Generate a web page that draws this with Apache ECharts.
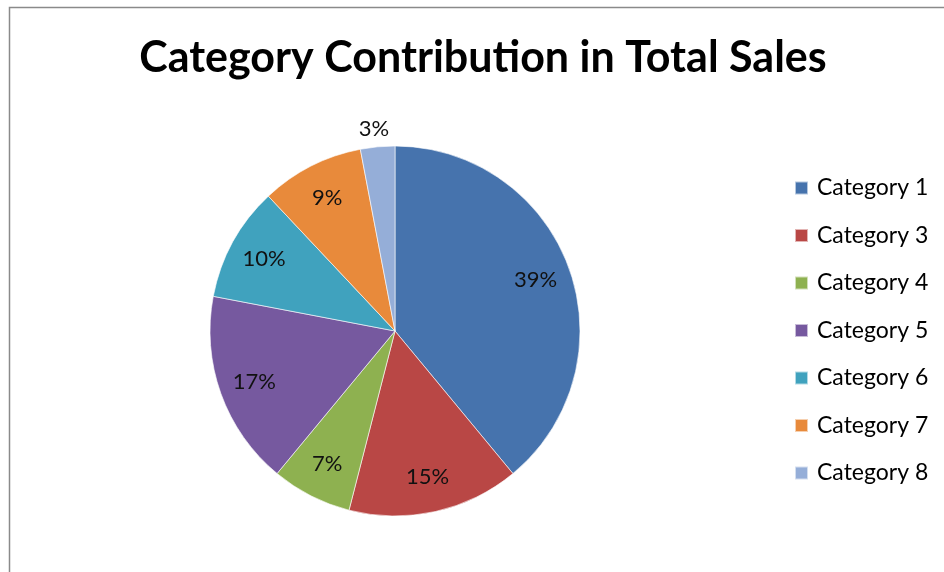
<!DOCTYPE html>
<html>
<head>
<meta charset="utf-8">
<script src="https://cdn.jsdelivr.net/npm/echarts@6/dist/echarts.min.js"></script>
<style>
  html, body { margin: 0; padding: 0; background: #fff; }
  #chart { width: 944px; height: 572px; }
</style>
</head>
<body>
<div id="chart"></div>
<script>
// Share of total sales by category (percent)
const categories = ['Category 1', 'Category 3', 'Category 4', 'Category 5', 'Category 6', 'Category 7', 'Category 8'];
const shares = [39, 15, 7, 17, 10, 9, 3];
const sliceColors = ['#4673AD', '#B94745', '#8EB150', '#76599F', '#40A2BE', '#E88A3B', '#95AED8'];
const chartTitle = 'Category Contribution in Total Sales';

const FONT = 'Lato, "Open Sans", sans-serif';
const center = [395, 331];
const R = 185;

const sliceData = categories.map((name, i) => ({
  name: name,
  value: shares[i],
  itemStyle: { color: sliceColors[i] }
}));

// Label layer: same values, labels sit at ~0.8 of the radius; the small slice puts its label outside
const labelData = categories.map((name, i) => {
  const item = { name: name, value: shares[i] };
  if (shares[i] < 5) {
    item.label = { position: 'outside', offset: [17, -14] };
    item.labelLine = { show: false, length: 4, length2: 0 };
  }
  return item;
});

const chart = echarts.init(document.getElementById('chart'), null, { renderer: 'canvas' });
chart.setOption({
  animation: false,
  backgroundColor: '#ffffff',
  color: sliceColors,
  title: {
    text: chartTitle,
    left: 483,
    top: 37,
    padding: 0,
    textAlign: 'center',
    textStyle: { fontFamily: FONT, fontWeight: 'bold', fontSize: 43, color: '#000' }
  },
  legend: {
    orient: 'vertical',
    left: 794,
    top: 176.5,
    padding: 0,
    itemWidth: 13,
    itemHeight: 13,
    itemGap: 24.5,
    icon: 'rect',
    data: categories,
    textStyle: { fontFamily: FONT, fontSize: 23, color: '#000', padding: [0, 0, 0, 4] }
  },
  graphic: [{
    type: 'rect',
    shape: { x: 9.5, y: 7.5, width: 1000, height: 1000 },
    style: { fill: 'none', stroke: '#8a8a8a', lineWidth: 1.5 },
    silent: true,
    z: -1
  }],
  series: [
    {
      type: 'pie',
      center: center,
      radius: [0, R],
      startAngle: 90,
      clockwise: true,
      data: sliceData,
      label: { show: false },
      labelLine: { show: false },
      itemStyle: { borderColor: 'rgba(255,255,255,0.6)', borderWidth: 1 },
      emphasis: { disabled: true }
    },
    {
      type: 'pie',
      center: center,
      radius: [108, R],
      startAngle: 90,
      clockwise: true,
      data: labelData,
      silent: true,
      itemStyle: { color: 'rgba(0,0,0,0)', borderWidth: 0 },
      label: {
        show: true,
        position: 'inside',
        formatter: '{c}%',
        fontFamily: FONT,
        fontSize: 22,
        color: '#111'
      },
      labelLine: { show: false },
      emphasis: { disabled: true }
    }
  ]
});
</script>
</body>
</html>
